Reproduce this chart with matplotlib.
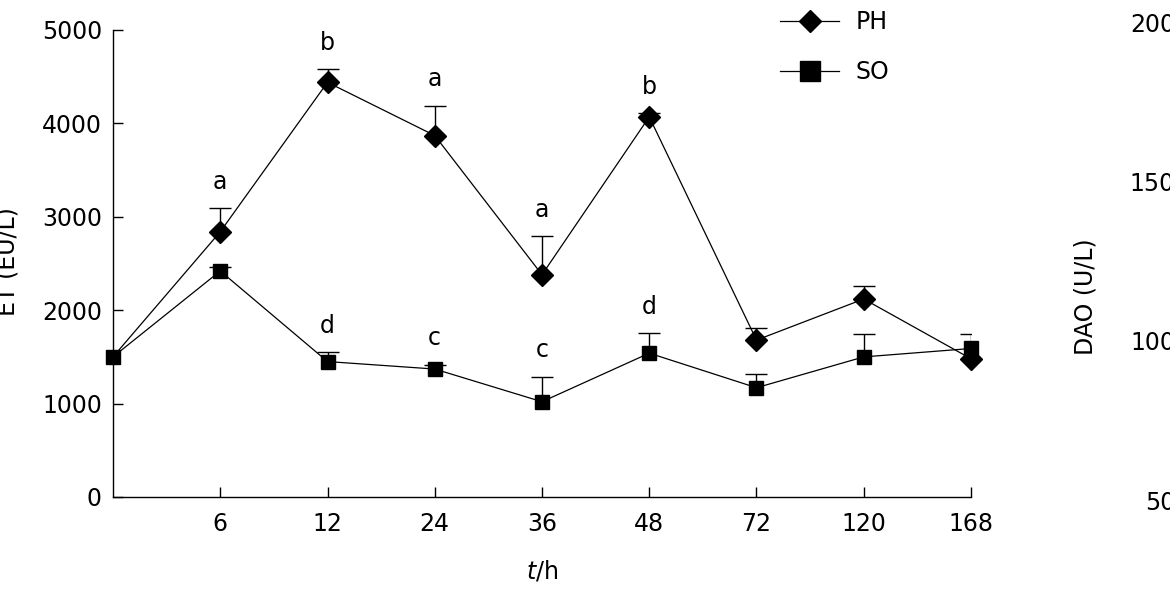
import numpy as np
import matplotlib
matplotlib.use("Agg")
import matplotlib.pyplot as plt

plt.rcParams['font.family'] = ['DejaVu Sans']
plt.rcParams['font.size'] = 17

# sampling times (first point is 0 h, unlabeled)
times = ["0", "6", "12", "24", "36", "48", "72", "120", "168"]
tick_labels = ["6", "12", "24", "36", "48", "72", "120", "168"]

ph_mean = [1500, 2840, 4440, 3870, 2380, 4070, 1680, 2120, 1480]
ph_sd = [0, 250, 140, 320, 410, 40, 130, 140, 0]
ph_sig = ["", "a", "b", "a", "a", "b", "", "", ""]

so_mean = [1500, 2420, 1450, 1370, 1020, 1540, 1170, 1500, 1590]
so_sd = [0, 40, 100, 45, 270, 215, 150, 245, 150]
so_sig = ["", "", "d", "c", "c", "d", "", "", ""]

dao_ticks = [50, 100, 150, 200]

x = np.arange(len(times))

fig = plt.figure(figsize=(11.7, 6.11), dpi=100)
ax = fig.add_axes([113/1170, 1-497/611, 858/1170, 467/611])

# error bars, upper side only
for mean, sd in [(so_mean, so_sd), (ph_mean, ph_sd)]:
    sd = np.array(sd)
    eb = ax.errorbar(x[sd > 0], np.array(mean)[sd > 0],
                     yerr=[np.zeros((sd > 0).sum()), sd[sd > 0]],
                     fmt='none', ecolor='black', elinewidth=1.0,
                     capsize=8, capthick=1.0, zorder=2)
    eb[1][0].set_visible(False)

ax.plot(x, so_mean, color='black', lw=0.9, marker='s', ms=10,
        label='SO', zorder=3, clip_on=False)
ax.plot(x, ph_mean, color='black', lw=0.9, marker='D', ms=11.5,
        markevery=slice(1, None), label='PH', zorder=4, clip_on=False)

for xi, m, s, t in zip(x, ph_mean, ph_sd, ph_sig):
    if t:
        ax.annotate(t, (xi, m + s), xytext=(0, 14), textcoords='offset points',
                    ha='center', va='baseline')
for xi, m, s, t in zip(x, so_mean, so_sd, so_sig):
    if t:
        ax.annotate(t, (xi, m + s), xytext=(0, 14), textcoords='offset points',
                    ha='center', va='baseline')

ax.set_xlim(0, 8)
ax.set_ylim(0, 5000)
ax.set_xticks(x[1:])
ax.set_xticklabels(tick_labels)
ax.set_yticks([0, 1000, 2000, 3000, 4000, 5000])
ax.tick_params(direction='in', length=7, width=1, pad=11)
ax.tick_params(axis='y', pad=8)
for sp in ['top', 'right']:
    ax.spines[sp].set_visible(False)
for sp in ['left', 'bottom']:
    ax.spines[sp].set_linewidth(1)

ax.set_xlabel(r'$\it{t}$/h', labelpad=16)
ax.set_ylabel('ET (EU/L)')
ax.yaxis.set_label_coords(20/1170, 1-262/611, transform=fig.transFigure)

handles, labels = ax.get_legend_handles_labels()
leg = ax.legend(handles[::-1], labels[::-1], loc='upper left',
                bbox_to_anchor=(780/1170, 1-10/611), bbox_transform=fig.transFigure,
                frameon=False, handlelength=2.5, handletextpad=0.7,
                labelspacing=1.1, borderpad=0, borderaxespad=0, numpoints=1)
leg.legend_handles[1].set_markersize(14)

# neighbouring panel (DAO), mostly outside the frame
ax2 = fig.add_axes([1186/1170, 1-500/611, 0.5, 478/611])
ax2.set_ylim(50, 200)
ax2.set_yticks(dao_ticks)
ax2.set_xticks([])
ax2.tick_params(direction='in', length=7, pad=8)
for sp in ['top', 'right', 'bottom']:
    ax2.spines[sp].set_visible(False)
ax2.set_ylabel('DAO (U/L)')
ax2.yaxis.set_label_coords(1097/1170, 1-297/611, transform=fig.transFigure)

fig.savefig('out.png', dpi=100)
